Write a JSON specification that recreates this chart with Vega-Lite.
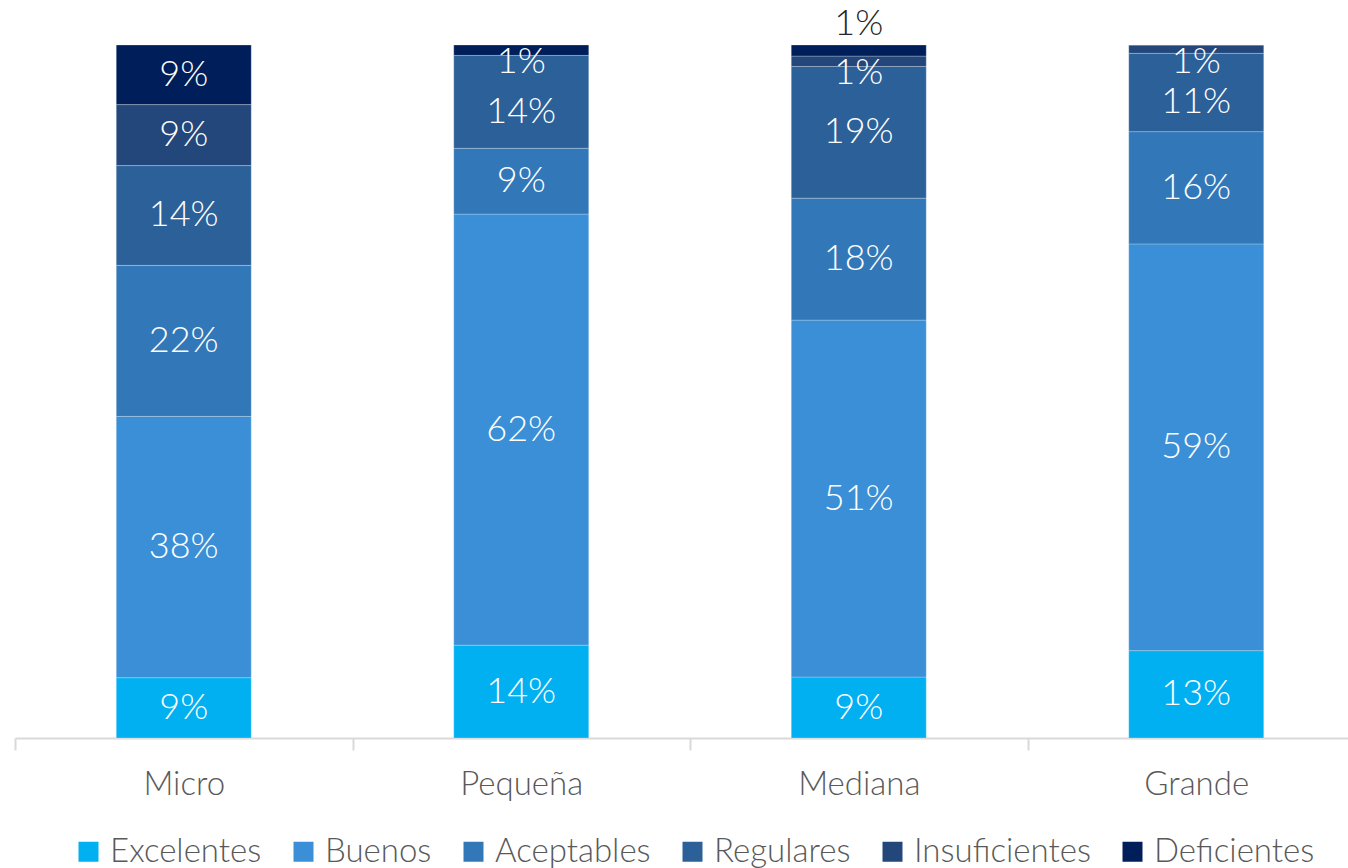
{
  "$schema": "https://vega.github.io/schema/vega-lite/v6.json",
  "autosize": "none",
  "width": 1350,
  "height": 693,
  "padding": {"left": 15, "top": 45, "right": 0, "bottom": 130},
  "config": {"view": {"stroke": null}, "font": "Lato"},
  "data": {"values": [
    {"tam": "Micro", "seg": "Excelentes", "value": 8.7, "lbl": "9%"},
    {"tam": "Micro", "seg": "Buenos", "value": 37.7, "lbl": "38%"},
    {"tam": "Micro", "seg": "Aceptables", "value": 21.8, "lbl": "22%"},
    {"tam": "Micro", "seg": "Regulares", "value": 14.4, "lbl": "14%"},
    {"tam": "Micro", "seg": "Insuficientes", "value": 8.8, "lbl": "9%"},
    {"tam": "Micro", "seg": "Deficientes", "value": 8.6, "lbl": "9%"},
    {"tam": "Pequeña", "seg": "Excelentes", "value": 13.4, "lbl": "14%"},
    {"tam": "Pequeña", "seg": "Buenos", "value": 62.2, "lbl": "62%"},
    {"tam": "Pequeña", "seg": "Aceptables", "value": 9.5, "lbl": "9%"},
    {"tam": "Pequeña", "seg": "Regulares", "value": 13.4, "lbl": "14%"},
    {"tam": "Pequeña", "seg": "Insuficientes", "value": 0, "lbl": ""},
    {"tam": "Pequeña", "seg": "Deficientes", "value": 1.5, "lbl": "1%"},
    {"tam": "Mediana", "seg": "Excelentes", "value": 8.8, "lbl": "9%"},
    {"tam": "Mediana", "seg": "Buenos", "value": 51.5, "lbl": "51%"},
    {"tam": "Mediana", "seg": "Aceptables", "value": 17.6, "lbl": "18%"},
    {"tam": "Mediana", "seg": "Regulares", "value": 19.0, "lbl": "19%"},
    {"tam": "Mediana", "seg": "Insuficientes", "value": 1.5, "lbl": "1%"},
    {"tam": "Mediana", "seg": "Deficientes", "value": 1.6, "lbl": "1%"},
    {"tam": "Grande", "seg": "Excelentes", "value": 12.6, "lbl": "13%"},
    {"tam": "Grande", "seg": "Buenos", "value": 58.7, "lbl": "59%"},
    {"tam": "Grande", "seg": "Aceptables", "value": 16.2, "lbl": "16%"},
    {"tam": "Grande", "seg": "Regulares", "value": 11.3, "lbl": "11%"},
    {"tam": "Grande", "seg": "Insuficientes", "value": 1.2, "lbl": "1%"},
    {"tam": "Grande", "seg": "Deficientes", "value": 0, "lbl": ""}
  ]},
  "transform": [
    {"calculate": "indexof(['Excelentes','Buenos','Aceptables','Regulares','Insuficientes','Deficientes'], datum.seg)", "as": "ord"},
    {"stack": "value", "groupby": ["tam"], "sort": [{"field": "ord", "order": "ascending"}], "as": ["y0", "y1"]},
    {"calculate": "(datum.y0 + datum.y1) / 2", "as": "mid"}
  ],
  "encoding": {
    "x": {
      "field": "tam", "type": "nominal", "sort": ["Micro", "Pequeña", "Mediana", "Grande"],
      "scale": {"paddingInner": 0, "paddingOuter": 0},
      "axis": {
        "title": null, "labelAngle": 0, "labelFontSize": 33, "labelColor": "#595959",
        "labelFont": "Lato", "labelFontWeight": 300,
        "domainColor": "#D9D9D9", "domainWidth": 2, "tickColor": "#D9D9D9", "tickWidth": 2,
        "tickSize": 12, "tickBand": "extent", "labelPadding": 18
      }
    }
  },
  "layer": [
    {
      "mark": {"type": "bar", "width": {"band": 0.4}, "stroke": "white", "strokeWidth": 1, "strokeOpacity": 0.25},
      "encoding": {
        "y": {"field": "y0", "type": "quantitative", "scale": {"domain": [0, 100]}, "axis": null},
        "y2": {"field": "y1"},
        "color": {
          "field": "seg", "type": "nominal",
          "sort": ["Excelentes", "Buenos", "Aceptables", "Regulares", "Insuficientes", "Deficientes"],
          "scale": {
            "domain": ["Excelentes", "Buenos", "Aceptables", "Regulares", "Insuficientes", "Deficientes"],
            "range": ["#00B0F0", "#3A8FD6", "#3278B8", "#2C6098", "#23477A", "#001E5A"]
          },
          "legend": {
            "title": null, "orient": "none", "direction": "horizontal",
            "legendX": 57, "legendY": 790,
            "symbolType": "square", "symbolSize": 400, "symbolStrokeWidth": 0,
            "labelFontSize": 33, "labelColor": "#595959", "labelFont": "Lato", "labelFontWeight": 300,
            "columnPadding": 25, "labelOffset": 5, "labelLimit": 400
          }
        }
      }
    },
    {
      "transform": [{"filter": "datum.value >= 5 && !(datum.seg == 'Regulares' && (datum.tam == 'Pequeña' || datum.tam == 'Grande'))"}],
      "mark": {"type": "text", "color": "white", "fontSize": 36, "fontWeight": 300, "baseline": "middle"},
      "encoding": {
        "y": {"field": "mid", "type": "quantitative"},
        "text": {"field": "lbl"}
      }
    },
    {
      "transform": [{"filter": "datum.seg == 'Regulares' && (datum.tam == 'Pequeña' || datum.tam == 'Grande')"}],
      "mark": {"type": "text", "color": "white", "fontSize": 36, "fontWeight": 300, "baseline": "middle", "dy": 10},
      "encoding": {
        "y": {"field": "mid", "type": "quantitative"},
        "text": {"field": "lbl"}
      }
    },
    {
      "transform": [{"filter": "datum.value > 0 && datum.value < 5 && !(datum.tam == 'Mediana' && datum.seg == 'Deficientes')"}],
      "mark": {"type": "text", "color": "white", "fontSize": 36, "fontWeight": 300, "baseline": "middle", "dy": 17},
      "encoding": {
        "y": {"field": "y1", "type": "quantitative"},
        "text": {"field": "lbl"}
      }
    },
    {
      "transform": [{"filter": "datum.tam == 'Mediana' && datum.seg == 'Deficientes'"}],
      "mark": {"type": "text", "color": "#262626", "fontSize": 36, "fontWeight": 300, "baseline": "middle", "dy": -21},
      "encoding": {
        "y": {"field": "y1", "type": "quantitative"},
        "text": {"field": "lbl"}
      }
    }
  ]
}
